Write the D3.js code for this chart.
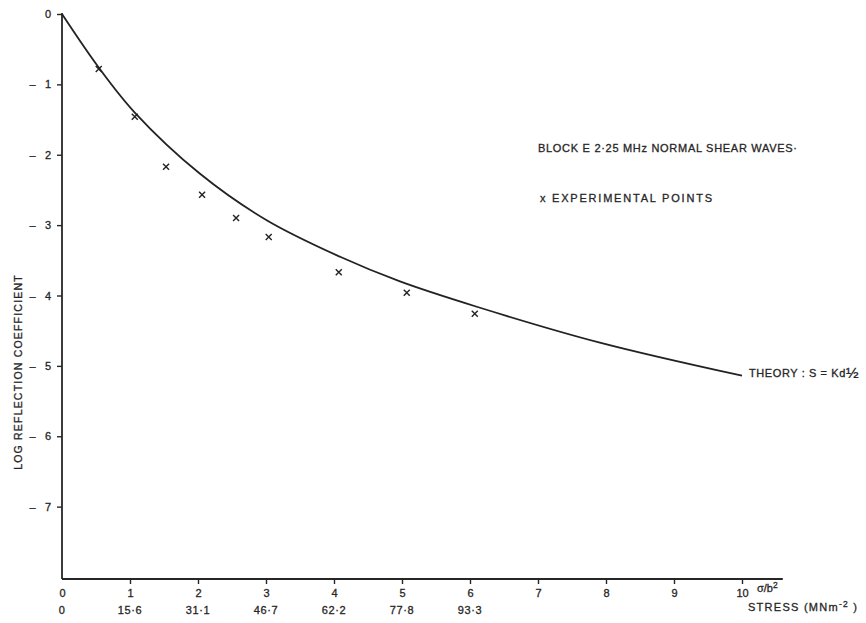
<!DOCTYPE html>
<html>
<head>
<meta charset="utf-8">
<script src="https://cdn.jsdelivr.net/npm/d3@7"></script>
<style>
  body { margin: 0; background: #fff; }
  svg { display: block; }
  text { font-family: "Liberation Sans", Arial, sans-serif; fill: #262626; stroke: #262626; stroke-width: 0.3; }
  .axis path, .axis line { stroke: #262626; stroke-width: 1.4; }
</style>
</head>
<body>
<svg id="chart" width="866" height="623"></svg>
<script>
/* -------------------- data -------------------- */
const xTicks       = [0, 1, 2, 3, 4, 5, 6, 7, 8, 9, 10];
const stressTicks  = [0, 1, 2, 3, 4, 5, 6];
const stressLabels = ["0", "15·6", "31·1", "46·7", "62·2", "77·8", "93·3"];
const yTicks       = [0, -1, -2, -3, -4, -5, -6, -7];

// theory curve  S = K d^1/2
const theoryX = [0, 0.54, 1.07, 2.03, 3.01, 4.09, 4.97, 6.1, 7.91, 10];
const theoryY = [0, -0.76, -1.40, -2.27, -2.93, -3.45, -3.80, -4.16, -4.67, -5.14];

// experimental points (x)
const expX = [0.54, 1.07, 1.53, 2.06, 2.56, 3.04, 4.07, 5.07, 6.07];
const expY = [-0.78, -1.46, -2.17, -2.57, -2.90, -3.17, -3.67, -3.96, -4.26];

/* -------------------- scales ----------------------------------------- */
const svg = d3.select("#chart");
const x = d3.scaleLinear().domain([0, 10]).range([62, 742]);
const y = d3.scaleLinear().domain([0, -8]).range([14, 577]);

/* -------------------- axes ------------------------------------------- */
const yAxis = d3.axisLeft(y)
    .tickValues(yTicks)
    .tickSize(5).tickSizeOuter(0).tickPadding(6)
    .tickFormat(d => d === 0 ? "0" : "\u2013\u00a0\u00a0\u00a0" + Math.abs(d));

svg.append("g").attr("class", "axis")
    .attr("transform", `translate(${x(0)},0)`)
    .call(yAxis)
    .call(g => g.select(".domain").remove())
    .call(g => g.selectAll("text").attr("font-size", 11).attr("fill", "#262626"));

// axis lines (x axis runs on past 10)
svg.append("line")
    .attr("x1", x(0)).attr("x2", x(0))
    .attr("y1", y(0) - 1).attr("y2", 579)
    .attr("stroke", "#262626").attr("stroke-width", 1.8);
svg.append("line")
    .attr("x1", x(0)).attr("x2", x(10.6))
    .attr("y1", 579).attr("y2", 579)
    .attr("stroke", "#262626").attr("stroke-width", 1.8);

const xAxis = d3.axisBottom(x)
    .tickValues(xTicks)
    .tickSize(5).tickSizeOuter(0).tickPadding(5)
    .tickFormat(d3.format("d"));

svg.append("g").attr("class", "axis")
    .attr("transform", "translate(0,579)")
    .call(xAxis)
    .call(g => g.select(".domain").remove())
    .call(g => g.selectAll(".tick").filter(d => d === 0).select("line").remove())
    .call(g => g.selectAll("text").attr("font-size", 11).attr("fill", "#262626"));

// second row: stress
svg.append("g").selectAll("text")
  .data(stressTicks)
  .join("text")
    .attr("x", d => x(d))
    .attr("y", 614)
    .attr("text-anchor", "middle")
    .attr("font-size", 11)
    .attr("letter-spacing", 0.6)
    .text((d, i) => stressLabels[i]);

// axis captions
svg.append("text")
    .attr("x", 757).attr("y", 592)
    .attr("font-size", 11)
    .html('σ/b<tspan dy="-4" font-size="8.5">2</tspan>');

svg.append("text")
    .attr("x", 748).attr("y", 611)
    .attr("font-size", 11)
    .attr("textLength", 109).attr("lengthAdjust", "spacing")
    .html('STRESS (MNm<tspan dy="-4" font-size="8.5">-2</tspan><tspan dy="4"> )</tspan>');

svg.append("text")
    .attr("transform", "translate(22,372) rotate(-90)")
    .attr("text-anchor", "middle")
    .attr("font-size", 10.5)
    .attr("letter-spacing", 1.2)
    .text("LOG  REFLECTION  COEFFICIENT");

/* -------------------- theory curve ----------------------------------- */
const line = d3.line()
    .x(i => x(theoryX[i]))
    .y(i => y(theoryY[i]))
    .curve(d3.curveCatmullRom.alpha(0.5));

svg.append("path")
    .attr("d", line(d3.range(theoryX.length)))
    .attr("fill", "none")
    .attr("stroke", "#222")
    .attr("stroke-width", 1.8);

/* -------------------- experimental points ---------------------------- */
const S = 3;
svg.append("g").selectAll("path")
  .data(d3.range(expX.length))
  .join("path")
    .attr("d", i => {
      const cx = x(expX[i]), cy = y(expY[i]);
      return `M${cx - S},${cy - S}L${cx + S},${cy + S}M${cx - S},${cy + S}L${cx + S},${cy - S}`;
    })
    .attr("stroke", "#222")
    .attr("stroke-width", 1.4)
    .attr("fill", "none");

/* -------------------- annotations ------------------------------------ */
svg.append("text")
    .attr("x", 538).attr("y", 152)
    .attr("font-size", 11)
    .attr("textLength", 259).attr("lengthAdjust", "spacing")
    .text("BLOCK E  2·25 MHz NORMAL SHEAR WAVES·");

svg.append("text")
    .attr("x", 540).attr("y", 202)
    .attr("font-size", 11)
    .attr("textLength", 172).attr("lengthAdjust", "spacing")
    .text("x EXPERIMENTAL POINTS");

svg.append("text")
    .attr("x", 749).attr("y", 377)
    .attr("font-size", 11)
    .attr("letter-spacing", 0.6)
    .html('THEORY : S = Kd<tspan font-size="15" dy="1">½</tspan>');
</script>
</body>
</html>
